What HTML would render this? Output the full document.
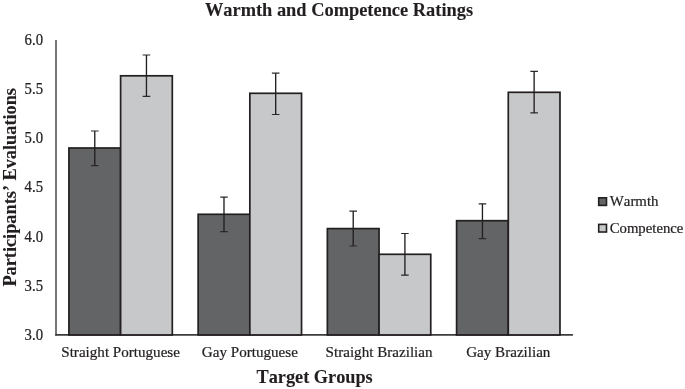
<!DOCTYPE html><html><head><meta charset="utf-8"><style>html,body{margin:0;padding:0;background:#fff}svg{display:block}text{font-family:"Liberation Serif",serif;fill:#231f20;font-kerning:none;font-variant-ligatures:none;stroke:#231f20;stroke-width:0.22px}svg{will-change:transform}.b{font-weight:bold;stroke-width:0.1px}</style></head><body>
<svg width="685" height="389" viewBox="0 0 685 389">
<rect width="685" height="389" fill="#fff"/>
<path d="M56.00 39.90V335.75" fill="none" stroke="#4a4a4c" stroke-width="1.5"/>
<path d="M55.25 334.95H572.90" fill="none" stroke="#3d3b3d" stroke-width="1.7"/>
<rect x="68.92" y="148.00" width="51.69" height="186.95" fill="#636466" stroke="#231f20" stroke-width="1.7"/>
<rect x="120.61" y="75.80" width="51.69" height="259.15" fill="#c7c8ca" stroke="#231f20" stroke-width="1.7"/>
<rect x="198.15" y="214.30" width="51.69" height="120.65" fill="#636466" stroke="#231f20" stroke-width="1.7"/>
<rect x="249.84" y="93.30" width="51.69" height="241.65" fill="#c7c8ca" stroke="#231f20" stroke-width="1.7"/>
<rect x="327.37" y="228.60" width="51.69" height="106.35" fill="#636466" stroke="#231f20" stroke-width="1.7"/>
<rect x="379.06" y="254.30" width="51.69" height="80.65" fill="#c7c8ca" stroke="#231f20" stroke-width="1.7"/>
<rect x="456.60" y="220.70" width="51.69" height="114.25" fill="#636466" stroke="#231f20" stroke-width="1.7"/>
<rect x="508.29" y="92.30" width="51.69" height="242.65" fill="#c7c8ca" stroke="#231f20" stroke-width="1.7"/>
<path d="M90.97 131.00h7.6M90.97 165.70h7.6" fill="none" stroke="#2d2a2b" stroke-width="1.2"/>
<path d="M94.77 131.00V165.70" fill="none" stroke="#231f20" stroke-width="1.35"/>
<path d="M142.66 55.00h7.6M142.66 96.30h7.6" fill="none" stroke="#2d2a2b" stroke-width="1.2"/>
<path d="M146.46 55.00V96.30" fill="none" stroke="#231f20" stroke-width="1.35"/>
<path d="M220.19 197.10h7.6M220.19 231.60h7.6" fill="none" stroke="#2d2a2b" stroke-width="1.2"/>
<path d="M223.99 197.10V231.60" fill="none" stroke="#231f20" stroke-width="1.35"/>
<path d="M271.88 73.15h7.6M271.88 114.50h7.6" fill="none" stroke="#2d2a2b" stroke-width="1.2"/>
<path d="M275.68 73.15V114.50" fill="none" stroke="#231f20" stroke-width="1.35"/>
<path d="M349.42 211.10h7.6M349.42 246.00h7.6" fill="none" stroke="#2d2a2b" stroke-width="1.2"/>
<path d="M353.22 211.10V246.00" fill="none" stroke="#231f20" stroke-width="1.35"/>
<path d="M401.11 233.50h7.6M401.11 275.20h7.6" fill="none" stroke="#2d2a2b" stroke-width="1.2"/>
<path d="M404.91 233.50V275.20" fill="none" stroke="#231f20" stroke-width="1.35"/>
<path d="M478.64 203.80h7.6M478.64 238.60h7.6" fill="none" stroke="#2d2a2b" stroke-width="1.2"/>
<path d="M482.44 203.80V238.60" fill="none" stroke="#231f20" stroke-width="1.35"/>
<path d="M530.33 71.40h7.6M530.33 112.90h7.6" fill="none" stroke="#2d2a2b" stroke-width="1.2"/>
<path d="M534.13 71.40V112.90" fill="none" stroke="#231f20" stroke-width="1.35"/>
<text transform="translate(43 339.95) scale(1 1.1)" font-size="14.75" text-anchor="end">3.0</text>
<text transform="translate(43 290.77) scale(1 1.1)" font-size="14.75" text-anchor="end">3.5</text>
<text transform="translate(43 241.60) scale(1 1.1)" font-size="14.75" text-anchor="end">4.0</text>
<text transform="translate(43 192.42) scale(1 1.1)" font-size="14.75" text-anchor="end">4.5</text>
<text transform="translate(43 143.25) scale(1 1.1)" font-size="14.75" text-anchor="end">5.0</text>
<text transform="translate(43 94.07) scale(1 1.1)" font-size="14.75" text-anchor="end">5.5</text>
<text transform="translate(43 44.90) scale(1 1.1)" font-size="14.75" text-anchor="end">6.0</text>
<text transform="translate(120.61 357.4) scale(1 1.02)" font-size="15.1" text-anchor="middle">Straight Portuguese</text>
<text transform="translate(249.84 357.4) scale(1 1.02)" font-size="15.1" text-anchor="middle">Gay Portuguese</text>
<text transform="translate(379.06 357.4) scale(1 1.02)" font-size="15.1" text-anchor="middle">Straight Brazilian</text>
<text transform="translate(508.29 357.4) scale(1 1.02)" font-size="15.1" text-anchor="middle">Gay Brazilian</text>
<text x="339.0" y="16.0" font-size="18.4" class="b" text-anchor="middle">Warmth and Competence Ratings</text>
<text x="314.6" y="382.6" font-size="18.3" class="b" text-anchor="middle">Target Groups</text>
<text transform="translate(16.4 187.3) rotate(-90)" font-size="18.3" class="b" text-anchor="middle">Participants&#8217; Evaluations</text>
<rect x="598.7" y="197.8" width="7.8" height="7.6" fill="#636466" stroke="#231f20" stroke-width="1.6"/>
<rect x="598.7" y="224.4" width="7.8" height="7.6" fill="#c7c8ca" stroke="#231f20" stroke-width="1.6"/>
<text x="609.8" y="206.3" font-size="14.85">Warmth</text>
<text x="609.7" y="233.05" font-size="14.75">Competence</text>
</svg></body></html>
